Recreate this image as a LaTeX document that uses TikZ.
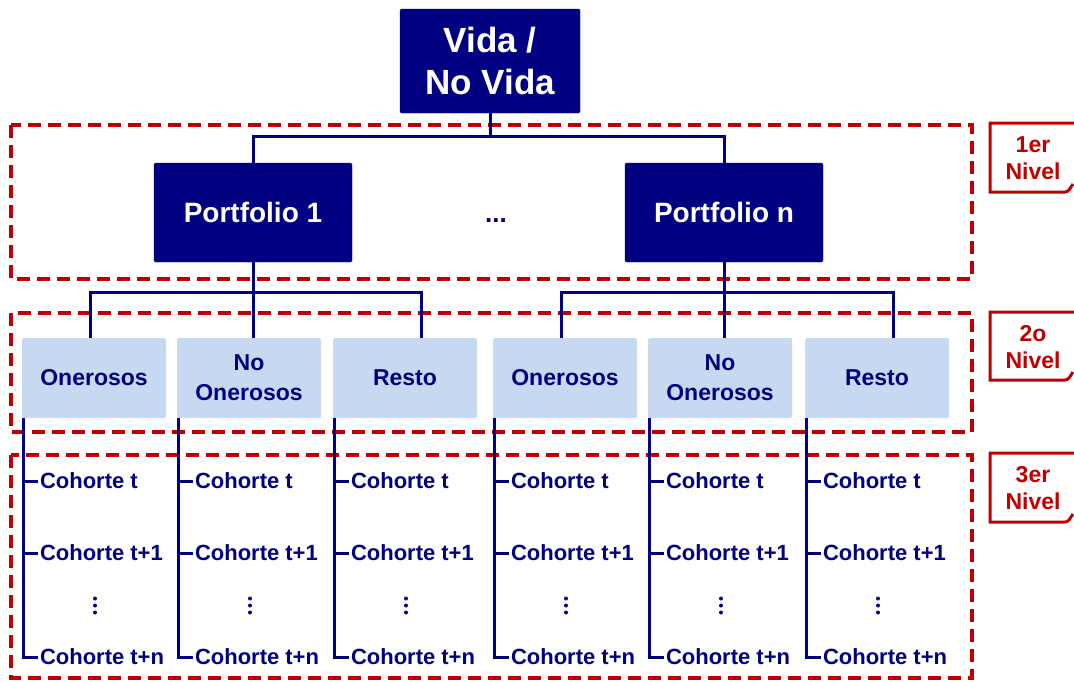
\documentclass[tikz,border=0pt]{standalone}
\usepackage{fontspec}
\setmainfont{Liberation Sans}
\definecolor{navy}{HTML}{000080}
\definecolor{lblue}{HTML}{C6D9F1}
\definecolor{dred}{HTML}{C00000}
\begin{document}
\begin{tikzpicture}[x=1pt,y=-1pt,
  topbox/.style={fill=navy,draw=navy,rounded corners=1.5pt,text=white,font=\bfseries,align=center,inner sep=0pt},
  lvbox/.style={fill=lblue,draw=none,rounded corners=1.5pt,text=navy,align=center,inner sep=0pt,
    minimum width=144,minimum height=80,font=\bfseries\fontsize{23}{30}\selectfont},
  conn/.style={draw=navy,line width=3pt},
  region/.style={draw=dred,line width=4pt,dash pattern=on 13pt off 7pt},
  coh/.style={text=navy,font=\bfseries\fontsize{22}{26}\selectfont,anchor=west,inner sep=0pt,outer sep=2.5pt},
  vdot/.style={fill=navy,draw=none,circle,inner sep=0pt,minimum size=4pt},
  lvl/.style={text=dred,font=\bfseries\fontsize{23}{27}\selectfont,align=center,inner sep=0pt},
  lvlframe/.style={draw=dred,line width=3pt}]
\useasboundingbox (0,0) rectangle (1074,681);
% regions
\draw[region] (11,125) rectangle (972,279);
\draw[region] (11,313) rectangle (972,432);
\draw[region] (11,455) rectangle (972,678);
% top
\node[topbox,minimum width=180,minimum height=104,font=\bfseries\fontsize{35}{42}\selectfont] (vida) at (490,61) {Vida /\\No Vida};
\node[topbox,minimum width=198,minimum height=99,font=\bfseries\fontsize{28}{32}\selectfont] (p1) at (253,212.5) {Portfolio 1};
\node[topbox,minimum width=198,minimum height=99,font=\bfseries\fontsize{28}{32}\selectfont] (pn) at (724,212.5) {Portfolio n};
\node[text=navy,font=\bfseries\fontsize{26}{28}\selectfont,anchor=base,inner sep=0pt] (dots) at (496,222) {...};
% level 2
\node[lvbox] (a1) at (94,378) {Onerosos};
\node[lvbox] (b1) at (249,378) {No\\Onerosos};
\node[lvbox] (c1) at (405,378) {Resto};
\node[lvbox] (a2) at (565,378) {Onerosos};
\node[lvbox] (b2) at (720,378) {No\\Onerosos};
\node[lvbox] (c2) at (877,378) {Resto};
% connectors top
\coordinate (j0) at (490,136);
\draw[conn] (vida.south) -- (j0);
\draw[conn] (p1.north) -- (p1.north |- j0) -- (pn.north |- j0) -- (pn.north);
\coordinate (h1) at (0,292);
\draw[conn] (p1.south) -- (p1.south |- b1.north);
\draw[conn] ([xshift=-4]a1.north) |- ([xshift=16]c1.north |- h1) -- ([xshift=16]c1.north);
\draw[conn] (pn.south) -- (pn.south |- b2.north);
\draw[conn] ([xshift=-4]a2.north) |- ([xshift=16]c2.north |- h1) -- ([xshift=16]c2.north);
% cohorts
\foreach \n/\x in {a1/22,b1/177,c1/333,a2/493,b2/648,c2/805}{
  \node[coh] (\n-t) at (\x+15.5,481) {Cohorte t};
  \node[coh] (\n-t1) at (\x+15.5,553) {Cohorte t+1};
  \node[vdot] (\n-d1) at (\x+73,598.5) {};
  \node[vdot] (\n-d2) at (\x+73,605.5) {};
  \node[vdot] (\n-d3) at (\x+73,612.5) {};
  \node[coh] (\n-tn) at (\x+15.5,657) {Cohorte t+n};
  \coordinate (\n-v) at ([xshift=1.5]\n.south west);
  \draw[conn] (\n-v) |- (\n-tn.west);
  \draw[conn] (\n-v |- \n-t.west) -- (\n-t.west);
  \draw[conn] (\n-v |- \n-t1.west) -- (\n-t1.west);
}
% level labels
\node[lvl] (l1) at (1033,158.5) {1er\\Nivel};
\node[lvl] (l2) at (1033,347.5) {2o\\Nivel};
\node[lvl] (l3) at (1033,488.5) {3er\\Nivel};
\foreach \t/\b in {123/192,312/380,453/522}{
  \draw[lvlframe] (1076,\t) -- (990,\t) -- (990,\b) -- (1065,\b) .. controls (1069,\b) and (1070,\b-4) .. (1073,\b-8);
}
\end{tikzpicture}
\end{document}
